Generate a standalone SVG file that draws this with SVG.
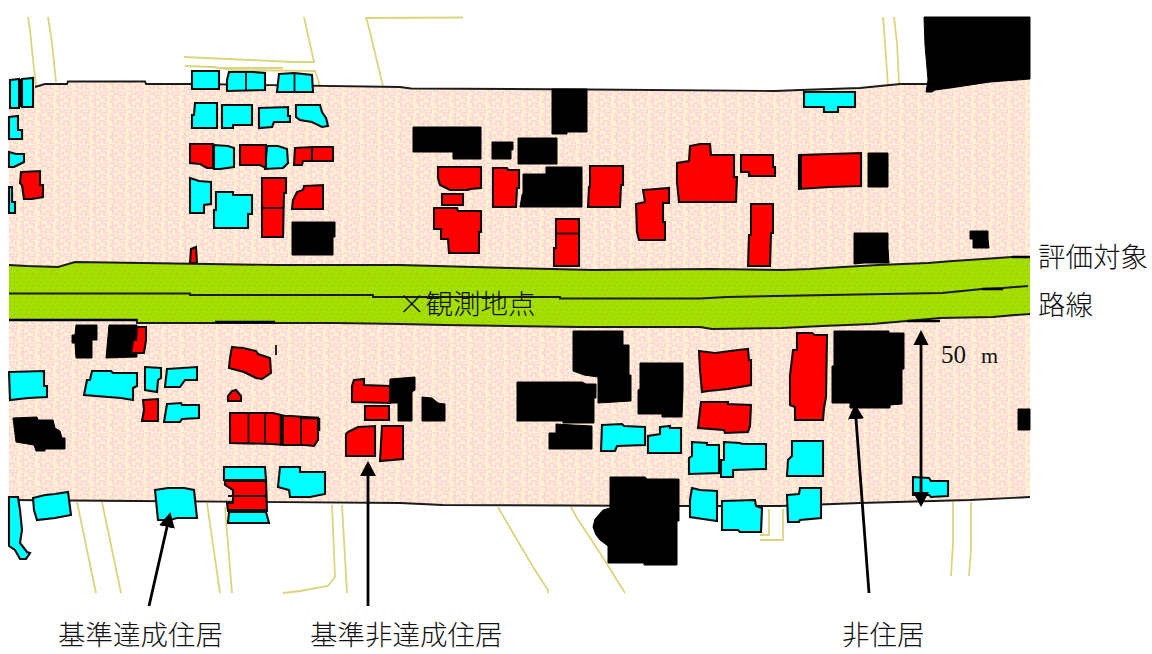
<svg xmlns="http://www.w3.org/2000/svg" width="1152" height="654" viewBox="0 0 1152 654">
<style>
.c{fill:#00ffff;stroke:#0c0c0c;stroke-width:2.1}
.r{fill:#ff0000;stroke:#0c0c0c;stroke-width:2.1}
.k{fill:#000;stroke:#000;stroke-width:1}
.d{fill:none;stroke:#111;stroke-width:1.8}
.t{fill:none;stroke:#dcd47c;stroke-width:1.8}
.e{fill:none;stroke:#1a1a1a;stroke-width:1.9}
.a{fill:none;stroke:#000;stroke-width:2.8}
.j{font-family:"Noto Sans CJK JP",sans-serif;font-size:27.5px;font-weight:300;fill:#111}
.n{font-family:"Liberation Serif",serif;fill:#111}
</style>
<defs>
<pattern id="pk" width="18" height="18" patternUnits="userSpaceOnUse">
<rect width="18" height="18" fill="#fff3cf"/>
<path d="M1 1h5v3h4v-2h5M17 1v4h-5v3h4v4M2 6h3v4h4v-2M1 12h4v4h5v-3h4v4h4M3 9v2M9 17v1M14 14h3" fill="none" stroke="#ffd2de" stroke-width="1.7"/>
</pattern>
<pattern id="gr" width="12" height="12" patternUnits="userSpaceOnUse">
<rect width="12" height="12" fill="#a2e000"/>
<path d="M1 2h2v1h-2zM7 1h1v2h-1zM4 6h2v1h-2zM10 5h1v1h-1zM2 9h1v2h-1zM8 9h2v1h-2z" fill="#b4b808"/>
</pattern>
<marker id="h" markerUnits="userSpaceOnUse" markerWidth="16" markerHeight="16" refX="0" refY="8" orient="auto" viewBox="0 0 16 16"><polygon points="0,0 15,8 0,16" fill="#000"/></marker>
</defs>
<rect width="1152" height="654" fill="#fff"/>

<g id="side-roads">
<path class="t" d="M28 17L30 30L33 60L36 86M48 17L52 43L56 82"/>
<path class="t" d="M304 17L314 62L293 62L250 60L184 57M185 66L213 67L233 70L315 71L320 86M217 68L283 68"/>
<path class="t" d="M463 17.5L366 18L368 24L383 86"/>
<path class="t" d="M883 17L885 43L888 86M894 17L897 43L899 83"/>
<path class="t" d="M77 502L96 593M102 502L121 593M207 503L220 593M225 507L232 593M332 505L335 577L328 586L300 591L283 593M342 505L347 593"/>
<path class="t" d="M498 507L513 533L533 567L548 590L548 593M571 507L577 518L600 553L625 593"/>
<path class="t" d="M769 509L769 535L760 535M783 509L783 540L760 540"/>
<path class="t" d="M953 502L953 543L951 576M971 502L971 550L969 576"/>
</g>

<g id="road-zone">
<polygon fill="url(#pk)" points="9,87 35,87 45,84 67,84 68,81.5 145,81.5 146,84 192,84 400,87 411,88.5 590,89.5 775,91 800,90 860,88 900,84 930,84 1030,79 1030,497 970,500 860,503 780,506 690,506 443,505 400,503 135,501 9,500"/>
<path class="e" d="M35 87L45 84L67 84L68 81.5L145 81.5L146 84L192 84L400 87L411 88.5L590 89.5L775 91L800 90L860 88L900 84L930 84"/>
<path class="e" d="M9 500L135 501L400 503L443 505L690 506L780 506L860 503L970 500L1030 497"/>
</g>

<g id="carriageway">
<polygon fill="url(#gr)" points="9,265 27,266 58,267 75,262 143,263 277,265 400,265 510,268 593,270 712,269 783,270 810,269 843,267 878,265 928,263 953,261 983,259 1012,257 1030,257 1030,314 1015,315 993,317 940,318 907,321 872,324 822,326 782,328 712,329 700,327 580,327 445,325 400,324 335,323 215,323 137,323 137,320 9,320"/>
<path class="e" d="M9 265L27 266L58 267L75 262L143 263L277 265L400 265L510 268L593 270L712 269L783 270L810 269L843 267L878 265L928 263L953 261L983 259L1012 257L1030 257"/>
<path class="e" d="M9 293.5L190 293.5L190 295L373 295L373 297L560 297L560 298.5L700 298.5L727 297L830 295L885 294L942 293L982 289L1003 288L1028 286"/>
<path class="e" d="M9 320L137 320L137 323L215 323L335 323L400 324L445 325L580 327L700 327L712 329L782 328L822 326L872 324L907 321L940 318L993 317L1015 315L1030 314"/>
<path d="M9 320H137M982 289H1003M907 321H940M1012 257H1030M215 322H275" fill="none" stroke="#000" stroke-width="2.6"/>
</g>

<g id="non-residential">
<polygon class="k" points="552,89 587,89 587,132 567,132 567,134 552,134"/>
<polygon class="k" points="413,127 481,127 481,159 453,159 453,152 413,152"/>
<polygon class="k" points="492,142 513,142 513,150 511,150 511,159 492,159"/>
<polygon class="k" points="518,138 557,138 557,164 518,164"/>
<polygon class="k" points="546,167 582,167 582,207 520,207 522,195 523,193 523,174 546,174"/>
<polygon class="k" points="924,17 1030,17 1030,79 990,82 950,88 935,90 932,92 926,92 928,80 925,45"/>
<polygon class="k" points="868,153 888,153 888,187 868,187"/>
<polygon class="k" points="854,233 888,233 888,248 889,263 864,263 854,264"/>
<polygon class="k" points="970,231 988,231 988,239 989,248 973,248 973,239 970,239"/>
<polygon class="k" points="292,222 335,222 335,237 333,237 333,255 292,255"/>
<polygon class="k" points="76,325 97,325 97,340 92,340 92,358 76,358 75,343 72,343 72,335 75,335"/>
<polygon class="k" points="109,325 137,325 137,357 106,358"/>
<polygon class="k" points="13,418 37,417 38,420 53,420 55,428 60,431 62,438 65,438 65,449 45,449 45,451 36,451 34,445 16,442"/>
<polygon class="k" points="390,379 415,377 415,390 412,392 412,421 398,421 398,403 389,403"/>
<polygon class="k" points="422,397 432,398 438,403 445,404 445,421 422,421"/>
<polygon class="k" points="573,331 623,331 623,345 629,345 629,375 631,375 631,401 598,403 598,377 584,375 573,371"/>
<polygon class="k" points="640,363 683,363 683,390 682,417 662,417 662,414 638,414 638,390 640,389"/>
<polygon class="k" points="517,382 582,382 586,384 596,384 596,398 594,398 594,423 563,423 563,421 517,421"/>
<polygon class="k" points="556,424 573,425 592,426 592,449 549,449 549,433 556,433"/>
<polygon class="k" points="610,477 645,477 647,479 679,479 679,521 677,521 677,565 644,565 644,563 608,563 608,546 600,540 596,535 593,527 595,519 603,510 610,508"/>
<polygon class="k" points="834,331 889,331 889,333 904,333 904,369 902,369 902,404 890,405 890,408 850,408 850,403 832,403 832,366 834,366"/>
<polygon class="k" points="1018,409 1030,409 1030,430 1018,430"/>
</g>

<g id="compliant-dwellings">
<polygon class="c" points="10,80 19,79 19,108 10,108"/>
<polygon class="c" points="22,79 33,78 33,107 22,107"/>
<rect x="19" y="79" width="3" height="28" fill="#000"/>
<polygon class="c" points="192,71 219,71 219,89 192,89"/>
<polygon class="c" points="229,72 253,72 265,73 265,90 227,91 227,80"/>
<path class="d" d="M246 72V91"/>
<polygon class="c" points="279,74 294,73 312,75 313,92 277,92"/>
<path class="d" d="M294.5 73V92"/>
<polygon class="c" points="195,103 217,103 217,128 192,128 192,115 194,115"/>
<polygon class="c" points="222,105 252,105 252,125 233,125 233,128 222,128"/>
<polygon class="c" points="259,108 288,107 288,116 290,116 290,122 274,122 272,127 259,128"/>
<polygon class="c" points="296,105 320,105 322,112 326,118 328,126 322,127 312,122 300,120 296,117"/>
<polygon class="c" points="9,117 18,116 18,130 22,130 22,139 9,139"/>
<polygon class="c" points="9,152 16,154 24,154 24,162 14,167 9,167"/>
<polygon class="c" points="9,187 12,187 12,202 15,202 15,213 9,213"/>
<polygon class="c" points="214,145 228,146 234,148 234,167 220,169 214,169"/>
<polygon class="c" points="267,146 278,146 287,149 288,163 283,168 265,169"/>
<polygon class="c" points="190,178 199,181 211,182 211,204 204,205 204,213 190,213"/>
<polygon class="c" points="216,192 233,192 233,195 252,195 252,214 248,214 248,228 214,228 214,210 216,210"/>
<polygon class="c" points="804,92 855,92 855,107 838,107 838,112 824,112 824,107 804,107"/>
<polygon class="c" points="10,372 44,371 44,386 47,386 47,397 28,398 10,400 9,372"/>
<polygon class="c" points="92,371 111,371 113,373 137,373 137,386 133,388 133,400 121,398 84,395 87,380 90,380"/>
<polygon class="c" points="145,367 161,368 161,378 158,380 157,392 145,390"/>
<polygon class="c" points="167,369 197,367 197,380 185,380 180,387 165,387"/>
<polygon class="r" points="143,400 158,399 158,421 142,421 144,410"/>
<polygon class="c" points="167,404 181,403 182,405 199,405 199,418 182,419 180,422 164,422"/>
<polygon class="c" points="224,467 265,467 266,480 224,480"/>
<polygon class="c" points="229,512 266,512 269,523 228,523"/>
<polygon class="c" points="280,467 300,467 300,472 325,472 325,494 310,497 290,497 289,490 278,487"/>
<polygon class="c" points="155,490 168,488 184,488 194,490 197,518 177,518 170,520 158,520"/>
<polygon class="c" points="33,498 45,495 55,494 68,492 71,515 55,518 37,520 34,510"/>
<polygon class="c" points="9,497 18,497 20,510 22,530 20,543 27,552 30,553 26,559 20,559 15,550 9,546"/>
<polygon class="c" points="602,425 622,424 624,426 645,427 645,445 617,446 615,451 601,451"/>
<polygon class="c" points="660,427 670,426 670,428 681,428 681,453 648,453 648,436 660,434"/>
<polygon class="c" points="692,442 707,443 707,445 719,445 719,473 689,474 689,458 692,456"/>
<polygon class="c" points="724,442 740,443 742,444 766,444 766,469 733,470 733,477 721,477 721,460 724,460"/>
<polygon class="c" points="692,488 700,490 717,491 717,521 703,519 690,517 690,500"/>
<polygon class="c" points="722,501 755,500 756,506 762,508 761,532 740,532 738,530 722,530"/>
<polygon class="c" points="792,441 823,441 823,476 787,476 788,460 792,456"/>
<polygon class="c" points="787,495 799,494 800,488 821,488 821,518 800,520 799,522 788,522"/>
<polygon class="c" points="913,477 929,478 931,481 948,481 948,496 931,497 929,495 913,495"/>
</g>

<g id="noncompliant-dwellings">
<polygon class="r" points="21,172 40,171 40,185 43,185 43,197 32,199 24,199 22,185 20,183"/>
<polygon class="r" points="190,144 213,144 213,168 207,168 200,164 190,163"/>
<polygon class="r" points="240,145 266,145 266,168 260,165 240,165"/>
<polygon class="r" points="295,148 312,147 312,161 303,161 302,165 294,165"/>
<polygon class="r" points="312,147 333,147 333,161 312,161"/>
<polygon class="r" points="262,178 286,178 286,193 284,193 283,237 262,237"/>
<path class="d" d="M262 208H284"/>
<polygon class="r" points="304,186 323,185 323,209 292,209 293,200 297,192 303,190"/>
<polygon class="r" points="191,249 196,247 197,263 190,263"/>
<polygon class="r" points="438,167 481,167 481,188 470,189 468,190 450,190 440,185 438,178"/>
<polygon class="r" points="442,194 463,194 463,205 442,205"/>
<polygon class="r" points="434,208 457,208 458,211 481,211 481,232 479,232 479,253 449,253 448,239 441,239 441,229 434,229"/>
<polygon class="r" points="493,168 507,168 508,170 519,170 519,188 517,188 516,207 493,207"/>
<polygon class="r" points="590,166 623,166 623,185 621,185 620,207 588,207 589,187 590,187"/>
<polygon class="r" points="556,219 579,219 579,266 554,266 554,248 556,248"/>
<path class="d" d="M556 233.5H579"/>
<polygon class="r" points="643,190 656,189 669,188 669,203 663,203 663,222 665,222 665,240 639,240 637,232 636,204 645,202"/>
<polygon class="r" points="690,146 700,144 710,144 711,155 734,155 734,177 737,177 736,202 679,202 677,182 677,163 689,161"/>
<polygon class="r" points="741,155 773,155 773,167 775,167 775,176 749,176 749,172 741,172"/>
<polygon class="r" points="751,204 773,204 773,233 771,233 770,266 748,266 749,235 751,235"/>
<polygon class="r" points="799,155 830,154 861,153 861,186 830,187 799,189"/>
<rect x="798" y="155" width="4" height="34" fill="#000"/>
<polygon class="r" points="137,327 146,327 146,340 144,353 131,353 133,340 136,340"/>
<polygon class="r" points="232,347 243,348 256,351 258,354 270,358 271,373 262,379 256,378 244,372 229,368 230,358"/>
<path class="d" d="M276 345V355"/>
<polygon class="r" points="232,391 236,390 241,396 241,401 228,401 228,396"/>
<polygon class="r" points="230,413 273,413 285,416 291,416 318,418 318,440 314,446 304,445 283,445 272,444 230,443"/>
<path class="d" d="M248.5 413V443M265 413V444M283 416V445M301 418V445"/>
<path d="M281 416V445M300 418H319M319 418V431" fill="none" stroke="#000" stroke-width="2.5"/>
<polygon class="r" points="354,380 364,379 364,385 390,386 390,403 352,402 352,386"/>
<polygon class="r" points="365,406 389,406 389,420 365,420"/>
<polygon class="r" points="348,432 358,427 375,426 375,456 346,456 346,434"/>
<polygon class="r" points="382,426 403,426 403,459 380,461"/>
<polygon class="r" points="225,480 266,480 267,511 228,511 227,503 233,503 233,490 225,485"/>
<path d="M228 496H266M226 481H266M228 510H267" fill="none" stroke="#111" stroke-width="2"/>
<polygon class="r" points="699,351 715,353 738,350 748,349 749,360 751,360 751,385 728,389 708,391 702,392 700,370"/>
<polygon class="r" points="701,402 728,402 728,404 751,405 750,426 748,432 725,433 724,430 698,428"/>
<polygon class="r" points="797,333 812,333 815,335 827,335 826,397 824,408 823,420 795,420 795,407 790,405 790,376 793,350 797,350"/>
</g>

<g id="connectors">
<path class="a" d="M149 606L167 527" marker-end="url(#h)"/>
<path class="a" d="M368 606V476" marker-end="url(#h)"/>
<path class="a" d="M869 593L856 419" marker-end="url(#h)"/>
<path class="a" d="M921 345V492" marker-end="url(#h)"/>
<polygon points="921,330 928.5,345 913.5,345" fill="#000"/>
</g>

<g id="labels">
<text class="j" x="58" y="645">基準達成住居</text>
<text class="j" x="310" y="645">基準非達成住居</text>
<text class="j" x="842" y="645">非住居</text>
<text class="j" x="1038" y="267">評価対象</text>
<text class="j" x="1038" y="315">路線</text>
<text class="j" x="398" y="314">×観測地点</text>
<text class="n" x="941" y="363" font-size="25">50<tspan x="981" font-size="22">m</tspan></text>
</g>
</svg>
